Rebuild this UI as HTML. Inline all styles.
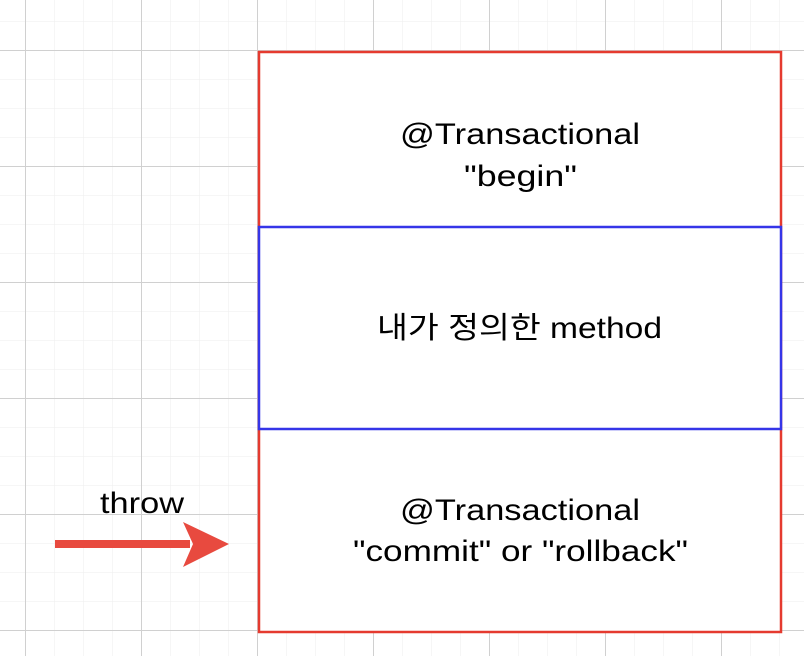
<!DOCTYPE html>
<html><head><style>
body{margin:0;width:804px;height:656px;overflow:hidden;background:#fff;}
</style></head><body>
<svg width="804" height="656" xmlns="http://www.w3.org/2000/svg">
<defs>
<pattern id="minor" x="25" y="-8" width="29" height="29" patternUnits="userSpaceOnUse">
<path d="M0 0V29M0 0H29" stroke="#f0f0f0" stroke-width="1.2" fill="none"/>
</pattern>
<pattern id="major" x="25" y="50" width="116" height="116" patternUnits="userSpaceOnUse">
<path d="M0.5 0V116M0 0.5H116" stroke="#d0d0d0" stroke-width="1" fill="none"/>
</pattern>
</defs>
<rect width="804" height="656" fill="url(#minor)"/>
<rect width="804" height="656" fill="url(#major)"/>
<rect x="259" y="52" width="522" height="580" fill="#fff" stroke="#e53a2f" stroke-width="2.5"/>
<rect x="259" y="227" width="522" height="202" fill="#fff" stroke="#3535e8" stroke-width="2.5"/>
<g font-family="Liberation Sans, 'Noto Sans CJK KR', sans-serif" font-size="30" fill="#000" lengthAdjust="spacingAndGlyphs">
<text x="400" y="144" textLength="240" lengthAdjust="spacingAndGlyphs">@Transactional</text>
<text x="464" y="186" textLength="113" lengthAdjust="spacingAndGlyphs">"begin"</text>
<text x="377" y="338" textLength="285" lengthAdjust="spacingAndGlyphs">내가 정의한 method</text>
<text x="400" y="520" textLength="240" lengthAdjust="spacingAndGlyphs">@Transactional</text>
<text x="353" y="561" textLength="335" lengthAdjust="spacingAndGlyphs">"commit" or "rollback"</text>
<text x="100" y="513" textLength="84" lengthAdjust="spacingAndGlyphs">throw</text>
</g>
<rect x="55" y="540" width="135" height="8" fill="#e84a3f"/>
<polygon points="183,522 229,544 183,567 193,544" fill="#e84a3f"/>
</svg>
</body></html>
